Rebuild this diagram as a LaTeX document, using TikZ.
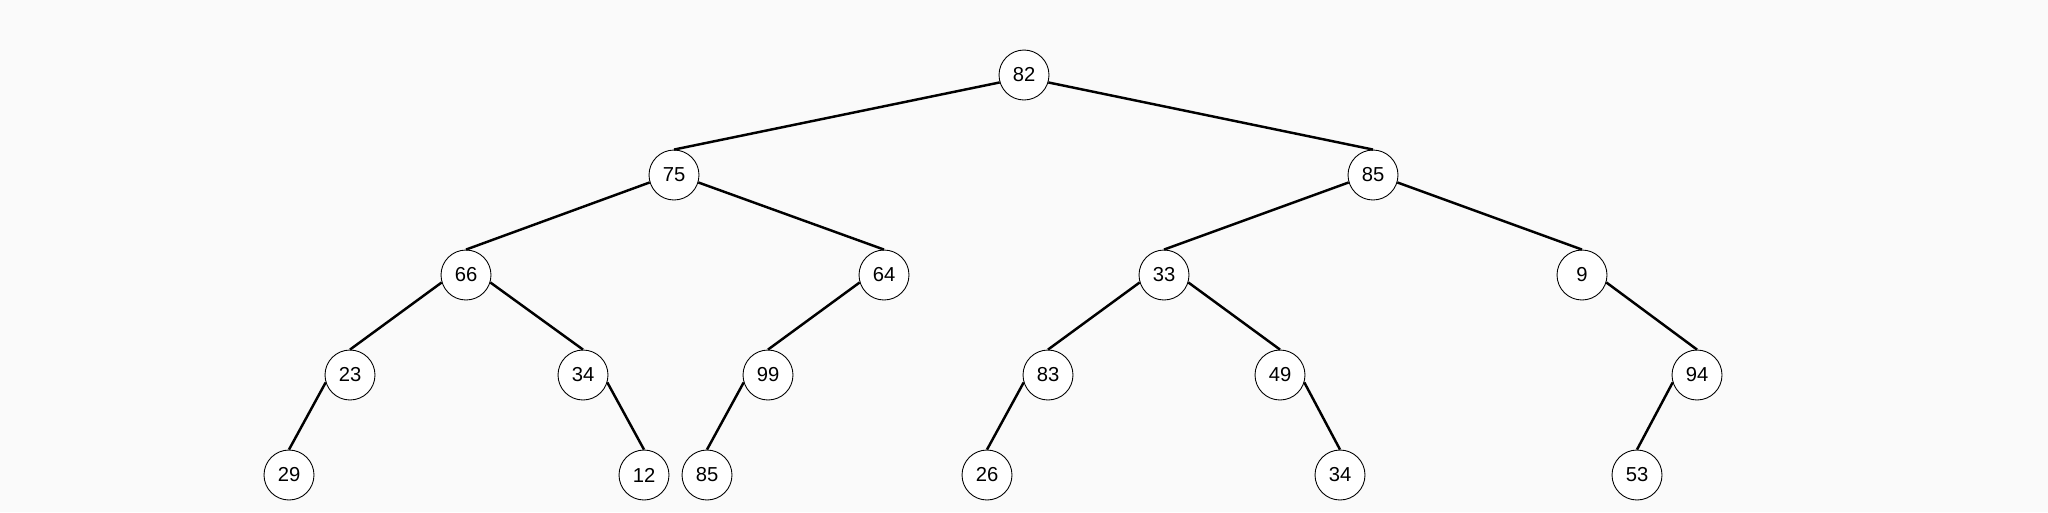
\documentclass[tikz,border=0pt]{standalone}
\usepackage{fontspec}
\setmainfont{Liberation Sans}
\usepackage{tikz}
\usetikzlibrary{positioning}
\definecolor{bgcol}{HTML}{FAFAFA}

\begin{document}
\begin{tikzpicture}[x=0.02cm, y=-0.02cm,
    heapnode/.style={draw=black, line width=0.5pt, circle, fill=white, minimum size=1cm, inner sep=0pt, font=\fontsize{11.5}{13}\selectfont},
    heapedge/.style={line width=1.4pt, draw=black}]
    \fill[bgcol] (0,0) rectangle (2048,512);
    \useasboundingbox (0,0) rectangle (2048,512);
    \node[heapnode] (N) at (1024,75) {82};
    \node[heapnode] (NL) at (674,175) {75};
    \node[heapnode] (NR) at (1373,175) {85};
    \draw [heapedge] (N.197) -- (NL.north);
    \draw [heapedge] (N.-17) -- (NR.north);
    \node[heapnode] (NLL) at (466,275) {66};
    \node[heapnode] (NLR) at (884,275) {64};
    \node[heapnode] (NRL) at (1164,275) {33};
    \node[heapnode] (NRR) at (1582,275) {9};
    \draw [heapedge] (NL.197) -- (NLL.north);
    \draw [heapedge] (NL.-17) -- (NLR.north);
    \draw [heapedge] (NR.197) -- (NRL.north);
    \draw [heapedge] (NR.-17) -- (NRR.north);
    \node[heapnode] (NLLL) at (350,375) {23};
    \node[heapnode] (NLLR) at (583,375) {34};
    \node[heapnode] (NLRL) at (768,375) {99};
    \node[heapnode] (NRLL) at (1048,375) {83};
    \node[heapnode] (NRLR) at (1280,375) {49};
    \node[heapnode] (NRRR) at (1697,375) {94};
    \draw [heapedge] (NLL.197) -- (NLLL.north);
    \draw [heapedge] (NLL.-17) -- (NLLR.north);
    \draw [heapedge] (NLR.197) -- (NLRL.north);
    \draw [heapedge] (NRL.197) -- (NRLL.north);
    \draw [heapedge] (NRL.-17) -- (NRLR.north);
    \draw [heapedge] (NRR.-17) -- (NRRR.north);
    \node[heapnode] (NLLLL) at (289,475) {29};
    \node[heapnode] (NLLRR) at (644,475) {12};
    \node[heapnode] (NLRLL) at (707,475) {85};
    \node[heapnode] (NRLLL) at (987,475) {26};
    \node[heapnode] (NRLRR) at (1340,475) {34};
    \node[heapnode] (NRRRL) at (1637,475) {53};
    \draw [heapedge] (NLLL.197) -- (NLLLL.north);
    \draw [heapedge] (NLLR.-17) -- (NLLRR.north);
    \draw [heapedge] (NLRL.197) -- (NLRLL.north);
    \draw [heapedge] (NRLL.197) -- (NRLLL.north);
    \draw [heapedge] (NRLR.-17) -- (NRLRR.north);
    \draw [heapedge] (NRRR.197) -- (NRRRL.north);
\end{tikzpicture}
\end{document}
